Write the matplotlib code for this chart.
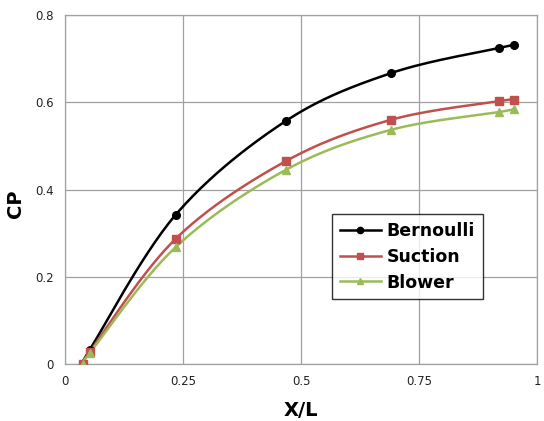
import numpy as np
import matplotlib
matplotlib.use("Agg")
import matplotlib.pyplot as plt
from matplotlib.ticker import FuncFormatter

x_vals = [0.038, 0.052, 0.234, 0.467, 0.69, 0.92, 0.95]
bernoulli = [0.0, 0.032, 0.342, 0.557, 0.667, 0.725, 0.731]
suction = [0.0, 0.028, 0.287, 0.465, 0.560, 0.603, 0.605]
blower = [0.0, 0.025, 0.268, 0.445, 0.537, 0.578, 0.585]

x_ticks = [0, 0.25, 0.5, 0.75, 1]
y_ticks = [0, 0.2, 0.4, 0.6, 0.8]


def smooth(xs, ys, n=30):
    xs = np.asarray(xs, float)
    ys = np.asarray(ys, float)
    P = np.column_stack([xs, ys])
    out = [P[0]]
    for i in range(len(P) - 1):
        p0 = P[i - 1] if i > 0 else P[i]
        p1 = P[i]
        p2 = P[i + 1]
        p3 = P[i + 2] if i + 2 < len(P) else P[i + 1]
        c1 = p1 + (p2 - p0) / 6.0
        c2 = p2 - (p3 - p1) / 6.0
        t = np.linspace(0, 1, n)[1:, None]
        seg = ((1 - t) ** 3) * p1 + 3 * ((1 - t) ** 2) * t * c1 + 3 * (1 - t) * t ** 2 * c2 + t ** 3 * p2
        out.extend(seg)
    out = np.array(out)
    return out[:, 0], out[:, 1]


fig = plt.figure(figsize=(5.44, 4.21), dpi=100)
ax = fig.add_axes([0.1195, 0.135, 0.868, 0.829])

series = [
    ("Bernoulli", bernoulli, "#000000", "o", 5.5),
    ("Suction", suction, "#c0504d", "s", 5.5),
    ("Blower", blower, "#9bbb59", "^", 5.5),
]
for name, ys, col, mk, ms in series:
    sx, sy = smooth(x_vals, ys)
    ax.plot(sx, sy, color=col, lw=1.8, zorder=3)
    ax.plot(x_vals, ys, linestyle="none", marker=mk, color=col, ms=ms, zorder=4)
    ax.plot([], [], color=col, lw=1.8, marker=mk, ms=4.5, label=name)

ax.set_xlim(0, 1)
ax.set_ylim(0, 0.8)
ax.set_xticks(x_ticks)
ax.set_yticks(y_ticks)
fmt = FuncFormatter(lambda v, p: "%g" % v)
ax.xaxis.set_major_formatter(fmt)
ax.yaxis.set_major_formatter(fmt)
ax.tick_params(length=0, labelsize=8.5, colors="#222222", pad=8)
ax.grid(True, color="#a0a0a0", lw=0.9)
ax.set_axisbelow(True)
for s in ax.spines.values():
    s.set_color("#a0a0a0")
    s.set_linewidth(0.9)

ax.set_xlabel("X/L", fontsize=14, fontweight="bold", labelpad=9)
ax.set_ylabel("CP", fontsize=14, fontweight="bold", labelpad=6)
ax.yaxis.set_label_coords(-0.085, 0.46)

leg = ax.legend(loc="upper left", bbox_to_anchor=(0.565, 0.43), frameon=True, fancybox=False,
                prop={"weight": "bold", "size": 12.5}, handlelength=2.4, handletextpad=0.3,
                borderpad=0.45, labelspacing=0.45, borderaxespad=0)
leg.get_frame().set_edgecolor("#000000")
leg.get_frame().set_linewidth(1.0)

fig.savefig("out.png", dpi=100)
